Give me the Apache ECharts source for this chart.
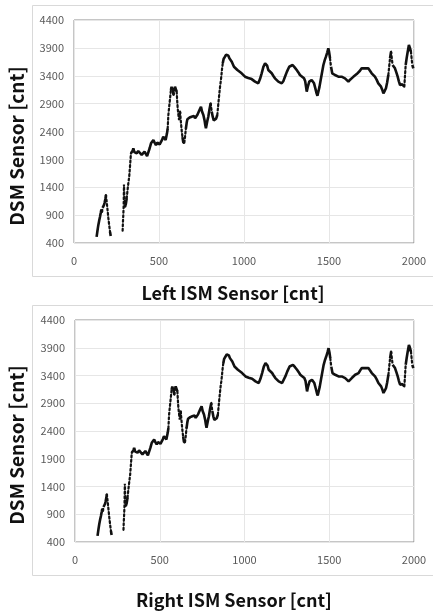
<!DOCTYPE html>
<html>
<head>
<meta charset="utf-8">
<script src="https://cdn.jsdelivr.net/npm/echarts@6/dist/echarts.min.js"></script>
<style>
html,body{margin:0;padding:0;background:#fff;}
#chart{width:433px;height:612px;}
</style>
</head>
<body>
<div id="chart"></div>
<script>
// Left ISM sensor (x) vs DSM sensor (y); null = gap in the record
const ismLeft = [133,138,143,148,153,158,161,165,168,172,176,180,185,188,192,197,202,207,212,216,250,
286,288,290,292,294,296,298,300,305,310,315,320,325,330,335,340,345,349,355,362,369,378,388,398,408,415,422,430,437,445,453,460,467,474,482,490,496,504,512,518,525,532,539,547,551,555,560,565,570,574,578,582,586,590,594,599,604,607,610,614,618,621,624,628,633,638,643,649,653,658,663,667,672,680,686,692,700,706,712,720,726,731,740,747,753,761,768,772,776,780,785,790,797,804,810,816,822,829,836,843,849,855,859,863,867,871,875,880,888,895,902,908,914,921,928,934,941,950,961,972,986,996,1006,1016,1025,1035,1045,1055,1065,1075,1084,1094,1104,1114,1124,1130,1136,1143,1153,1163,1172,1182,1192,1202,1212,1222,1231,1241,1252,1266,1276,1286,1298,1310,1320,1329,1340,1353,1360,1366,1369,1375,1384,1391,1398,1405,1412,1420,1427,1432,1437,1444,1451,1459,1467,1475,1482,1490,1496,1501,1506,1512,1519,1527,1535,1545,1555,1565,1574,1584,1594,1604,1614,1624,1633,1643,1653,1663,1673,1682,1692,1702,1712,1722,1731,1741,1751,1761,1770,1780,1790,1798,1806,1813,1820,1828,1835,1842,1849,1855,1859,1865,1870,1874,1881,1888,1896,1904,1911,1918,1925,1931,1937,1943,1947,1951,1957,1963,1970,1976,1982,1987,1990,1996];
const dsmLeft = [510,620,720,800,870,950,1000,960,1030,1000,1080,1120,1200,1260,1150,1000,850,720,600,525,null,
620,780,900,1060,1450,1250,1150,1050,1100,1200,1350,1480,1600,1800,2010,2030,2055,2098,2030,2060,2010,2050,2050,1980,1990,2040,2026,1960,1948,2100,2188,2200,2247,2200,2158,2200,2217,2170,2145,2250,2307,2280,2247,2367,2450,2696,2850,2995,3144,3200,3204,3120,3055,3150,3204,3180,3114,2950,2816,2700,2606,2700,2755,2600,2427,2300,2200,2200,2300,2450,2560,2620,2636,2650,2620,2665,2640,2680,2636,2650,2700,2696,2800,2845,2760,2696,2600,2520,2457,2520,2600,2665,2800,2905,2760,2665,2600,2576,2630,2696,2900,3085,3200,3294,3400,3530,3623,3700,3742,3780,3790,3760,3713,3680,3652,3620,3562,3530,3503,3470,3444,3410,3383,3372,3360,3354,3340,3324,3294,3270,3264,3340,3444,3560,3623,3650,3580,3503,3470,3444,3400,3354,3330,3294,3270,3264,3300,3383,3470,3562,3590,3593,3550,3503,3460,3413,3380,3354,3300,3180,3114,3200,3294,3310,3324,3330,3264,3170,3085,3040,3055,3200,3324,3460,3593,3680,3742,3820,3892,3820,3713,3560,3444,3410,3413,3390,3383,3390,3383,3370,3354,3320,3294,3330,3354,3380,3413,3430,3444,3490,3533,3520,3533,3540,3533,3490,3444,3420,3383,3330,3264,3230,3204,3150,3085,3130,3175,3280,3413,3600,3713,3831,3700,3593,3560,3533,3460,3383,3300,3234,3240,3246,3220,3204,3400,3593,3720,3831,3951,3900,3831,3680,3593,3533];

// Right ISM sensor (x) vs DSM sensor (y)
const ismRight = [133,138,143,148,153,158,161,165,168,172,176,180,185,188,192,197,202,207,212,216,250,
286,288,290,292,294,296,298,300,305,310,315,320,325,330,335,340,345,349,355,362,369,378,388,398,408,415,422,430,437,445,453,460,467,474,482,490,496,504,512,518,525,532,539,547,551,555,560,565,570,574,578,582,586,590,594,599,604,607,610,614,618,621,624,628,633,638,643,649,653,658,663,667,672,680,686,692,700,706,712,720,726,731,740,747,753,761,768,772,776,780,785,790,797,804,810,816,822,829,836,843,849,855,859,863,867,871,875,880,888,895,902,908,914,921,928,934,941,950,961,972,986,996,1006,1016,1025,1035,1045,1055,1065,1075,1084,1094,1104,1114,1124,1130,1136,1143,1153,1163,1172,1182,1192,1202,1212,1222,1231,1241,1252,1266,1276,1286,1298,1310,1320,1329,1340,1353,1360,1366,1369,1375,1384,1391,1398,1405,1412,1420,1427,1432,1437,1444,1451,1459,1467,1475,1482,1490,1496,1501,1506,1512,1519,1527,1535,1545,1555,1565,1574,1584,1594,1604,1614,1624,1633,1643,1653,1663,1673,1682,1692,1702,1712,1722,1731,1741,1751,1761,1770,1780,1790,1798,1806,1813,1820,1828,1835,1842,1849,1855,1859,1865,1870,1874,1881,1888,1896,1904,1911,1918,1925,1931,1937,1943,1947,1951,1957,1963,1970,1976,1982,1987,1990,1996];
const dsmRight = [510,620,720,800,870,950,1000,960,1030,1000,1080,1120,1200,1260,1150,1000,850,720,600,525,null,
620,780,900,1060,1450,1250,1150,1050,1100,1200,1350,1480,1600,1800,2010,2030,2055,2098,2030,2060,2010,2050,2050,1980,1990,2040,2026,1960,1948,2100,2188,2200,2247,2200,2158,2200,2217,2170,2145,2250,2307,2280,2247,2367,2450,2696,2850,2995,3144,3200,3204,3120,3055,3150,3204,3180,3114,2950,2816,2700,2606,2700,2755,2600,2427,2300,2200,2200,2300,2450,2560,2620,2636,2650,2620,2665,2640,2680,2636,2650,2700,2696,2800,2845,2760,2696,2600,2520,2457,2520,2600,2665,2800,2905,2760,2665,2600,2576,2630,2696,2900,3085,3200,3294,3400,3530,3623,3700,3742,3780,3790,3760,3713,3680,3652,3620,3562,3530,3503,3470,3444,3410,3383,3372,3360,3354,3340,3324,3294,3270,3264,3340,3444,3560,3623,3650,3580,3503,3470,3444,3400,3354,3330,3294,3270,3264,3300,3383,3470,3562,3590,3593,3550,3503,3460,3413,3380,3354,3300,3180,3114,3200,3294,3310,3324,3330,3264,3170,3085,3040,3055,3200,3324,3460,3593,3680,3742,3820,3892,3820,3713,3560,3444,3410,3413,3390,3383,3390,3383,3370,3354,3320,3294,3330,3354,3380,3413,3430,3444,3490,3533,3520,3533,3540,3533,3490,3444,3420,3383,3330,3264,3230,3204,3150,3085,3130,3175,3280,3413,3600,3713,3831,3700,3593,3560,3533,3460,3383,3300,3234,3240,3246,3220,3204,3400,3593,3720,3831,3951,3900,3831,3680,3593,3533];

const xTicks = [0, 500, 1000, 1500, 2000];
const yTicks = [400, 900, 1400, 1900, 2400, 2900, 3400, 3900, 4400];
const titles = ['Left ISM Sensor [cnt]', 'Right ISM Sensor [cnt]', 'DSM Sensor [cnt]'];

const FONT = '"Noto Sans CJK KR", "Noto Sans", sans-serif';
const STEEP = 22; // |dDSM/dISM| above which the record is sparse (drawn dotted)

// split one record into densely sampled (solid) and sparsely sampled (dotted) stretches
function split(xs, ys) {
  const solid = [], dotted = [];
  let lastS = -1, lastD = -1;
  for (let i = 0; i < xs.length - 1; i++) {
    if (ys[i] == null || ys[i + 1] == null) continue;
    const steep = Math.abs((ys[i + 1] - ys[i]) / (xs[i + 1] - xs[i])) > STEEP;
    const arr = steep ? dotted : solid;
    const last = steep ? lastD : lastS;
    if (last !== i) {
      if (arr.length) arr.push([xs[i], null]);
      arr.push([xs[i], ys[i]]);
    }
    arr.push([xs[i + 1], ys[i + 1]]);
    if (steep) lastD = i + 1; else lastS = i + 1;
  }
  return { solid, dotted };
}

function xAxisDef(gi) {
  return {
    type: 'value', gridIndex: gi,
    min: xTicks[0], max: xTicks[xTicks.length - 1], interval: xTicks[1] - xTicks[0],
    axisLine: { show: false }, axisTick: { show: false },
    splitLine: { show: true, lineStyle: { color: '#e6e6e6', width: 1 } },
    axisLabel: { color: '#595959', fontSize: 11, fontFamily: FONT, margin: 12, formatter: v => String(v) }
  };
}
function yAxisDef(gi) {
  return {
    type: 'value', gridIndex: gi,
    min: yTicks[0], max: yTicks[yTicks.length - 1], interval: yTicks[1] - yTicks[0],
    axisLine: { show: false }, axisTick: { show: false },
    splitLine: { show: true, lineStyle: { color: '#e6e6e6', width: 1 } },
    axisLabel: { color: '#595959', fontSize: 11, fontFamily: FONT, margin: 10, formatter: v => String(v) }
  };
}
function seriesDefs(gi, xs, ys) {
  const parts = split(xs, ys);
  return [
    {
      type: 'line', xAxisIndex: gi, yAxisIndex: gi,
      data: parts.solid, showSymbol: false, connectNulls: false,
      lineStyle: { color: '#111', width: 2.6 }, animation: false, silent: true
    },
    {
      type: 'line', xAxisIndex: gi, yAxisIndex: gi,
      data: parts.dotted, showSymbol: false, connectNulls: false,
      lineStyle: { color: '#111', width: 2.2, type: [2, 2.5], cap: 'round' }, animation: false, silent: true
    }
  ];
}

const chart = echarts.init(document.getElementById('chart'), null, { renderer: 'canvas' });
chart.setOption({
  backgroundColor: '#fff',
  animation: false,
  grid: [
    { left: 74, top: 20, width: 340, height: 223, show: true, borderColor: '#8c8c8c', borderWidth: 1 },
    { left: 75, top: 320, width: 339, height: 222, show: true, borderColor: '#8c8c8c', borderWidth: 1 }
  ],
  xAxis: [xAxisDef(0), xAxisDef(1)],
  yAxis: [yAxisDef(0), yAxisDef(1)],
  series: [].concat(seriesDefs(0, ismLeft, dsmLeft), seriesDefs(1, ismRight, dsmRight)),
  graphic: [
    { type: 'rect', shape: { x: 32.5, y: 5.5, width: 420, height: 271 }, style: { fill: 'none', stroke: '#d9d9d9', lineWidth: 1 }, z: -1 },
    { type: 'rect', shape: { x: 32.5, y: 305.5, width: 420, height: 270 }, style: { fill: 'none', stroke: '#d9d9d9', lineWidth: 1 }, z: -1 },
    { type: 'text', x: 233, y: 293, style: { text: titles[0], fill: '#111', font: 'bold 18px ' + FONT, textAlign: 'center', textVerticalAlign: 'middle' } },
    { type: 'text', x: 234, y: 600, style: { text: titles[1], fill: '#111', font: 'bold 18px ' + FONT, textAlign: 'center', textVerticalAlign: 'middle' } },
    { type: 'text', x: 17, y: 146, rotation: Math.PI / 2, style: { text: titles[2], fill: '#111', font: 'bold 19px ' + FONT, textAlign: 'center', textVerticalAlign: 'middle' } },
    { type: 'text', x: 17, y: 445, rotation: Math.PI / 2, style: { text: titles[2], fill: '#111', font: 'bold 19px ' + FONT, textAlign: 'center', textVerticalAlign: 'middle' } }
  ]
});
</script>
</body>
</html>
